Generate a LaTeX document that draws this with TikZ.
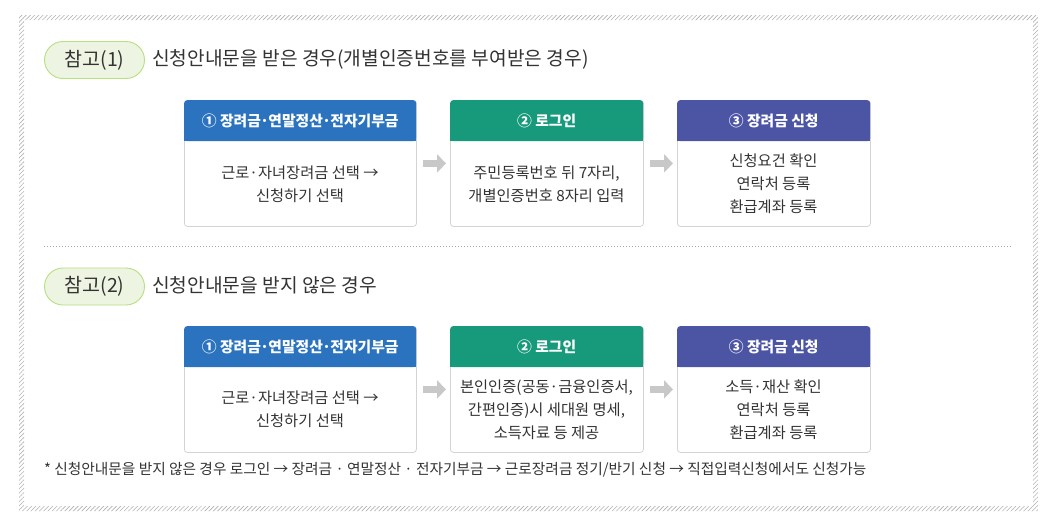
\documentclass[tikz,border=0pt]{standalone}
\usepackage{fontspec}
\setmainfont{Noto Sans CJK KR}
\usetikzlibrary{arrows.meta,patterns.meta}
\definecolor{hblue}{HTML}{2B73BE}
\definecolor{hgreen}{HTML}{179A7B}
\definecolor{hpurple}{HTML}{4B55A4}
\definecolor{pillfill}{HTML}{EDF4E1}
\definecolor{pillline}{HTML}{B8DF80}
\definecolor{boxline}{HTML}{D4D4D4}
\definecolor{txt}{HTML}{333333}
\definecolor{arrowgray}{HTML}{C8C8C8}
\tikzset{
  bodybox/.style={draw=boxline, line width=0.8pt, rounded corners=3pt, fill=white, minimum width=232, minimum height=126, anchor=north west, inner sep=0pt},
  hdr/.style={rounded corners=3pt, minimum width=232, minimum height=41, anchor=north west, inner sep=0pt},
  hdrtext/.style={text=white, font=\fontsize{14.8}{16}\selectfont\bfseries, inner sep=0pt},
  bodytext/.style={align=center, text=txt, font=\fontsize{15.3}{23}\selectfont, inner sep=0pt},
  pill/.style={draw=pillline, fill=pillfill, line width=0.9pt, rounded corners=18.5pt, minimum width=100, minimum height=37, inner sep=0pt, text=txt, font=\fontsize{19.5}{20}\selectfont},
  title/.style={anchor=west, text=txt, font=\fontsize{19.2}{20}\selectfont, inner sep=0pt},
  flow/.style={arrowgray, line width=6.5pt, -{Triangle[width=18pt,length=9pt]}, shorten <=6pt, shorten >=4pt},
}
\newcommand{\md}{\hspace{-0.05em}·\hspace{-0.05em}}
\begin{document}
\begin{tikzpicture}[x=1pt,y=-1pt]
\useasboundingbox (0,0) rectangle (1056,525);
\fill[white] (0,0) rectangle (1056,525);
% hatched frame
\fill[pattern={Lines[angle=45,distance=3pt,line width=0.6pt]}, pattern color=black!30, even odd rule]
  (19,15) rectangle (1038,511) (24,20) rectangle (1033,506);

% ---------- Section 1 ----------
\node[pill] (p1) at (94.5,60) {참고(1)};
\node[title] (t1) at (152,59) {신청안내문을 받은 경우(개별인증번호를 부여받은 경우)};

\node[bodybox, minimum width=232] (a1) at (184,100) {};
\node[hdr, fill=hblue, minimum width=232] (ah1) at (184,100) {};
\fill[hblue] (ah1.west) rectangle (ah1.south east);
\node[hdrtext] (ahl1) at (ah1.center) {① 장려금\md 연말정산\md 전자기부금};
\node[bodytext] (at1) at (300,184) {근로·자녀장려금 선택 →\\신청하기 선택};

\node[bodybox, minimum width=193] (a2) at (450,100) {};
\node[hdr, fill=hgreen, minimum width=193] (ah2) at (450,100) {};
\fill[hgreen] (ah2.west) rectangle (ah2.south east);
\node[hdrtext] (ahl2) at (ah2.center) {② 로그인};
\node[bodytext] (at2) at (546.5,184) {주민등록번호 뒤 7자리,\\개별인증번호 8자리 입력};

\node[bodybox, minimum width=193] (a3) at (677,100) {};
\node[hdr, fill=hpurple, minimum width=193] (ah3) at (677,100) {};
\fill[hpurple] (ah3.west) rectangle (ah3.south east);
\node[hdrtext] (ahl3) at (ah3.center) {③ 장려금 신청};
\node[bodytext] (at3) at (773.5,184) {신청요건 확인\\연락처 등록\\환급계좌 등록};

\draw[flow] (a1.east) -- (a2.west);
\draw[flow] (a2.east) -- (a3.west);

% separator
\draw[black!35, line width=0.8pt, dash pattern=on 1pt off 2pt] (44,246) -- (1012,246);

% ---------- Section 2 ----------
\node[pill] (p2) at (94.5,286.5) {참고(2)};
\node[title] (t2) at (152,285.5) {신청안내문을 받지 않은 경우};

\node[bodybox, minimum width=232] (b1) at (184,326) {};
\node[hdr, fill=hblue, minimum width=232] (bh1) at (184,326) {};
\fill[hblue] (bh1.west) rectangle (bh1.south east);
\node[hdrtext] (bhl1) at (bh1.center) {① 장려금\md 연말정산\md 전자기부금};
\node[bodytext] (bt1) at (300,409.5) {근로·자녀장려금 선택 →\\신청하기 선택};

\node[bodybox, minimum width=193] (b2) at (450,326) {};
\node[hdr, fill=hgreen, minimum width=193] (bh2) at (450,326) {};
\fill[hgreen] (bh2.west) rectangle (bh2.south east);
\node[hdrtext] (bhl2) at (bh2.center) {② 로그인};
\node[bodytext] (bt2) at (546.5,409.5) {본인인증(공동·금융인증서,\\간편인증)시 세대원 명세,\\소득자료 등 제공};

\node[bodybox, minimum width=193] (b3) at (677,326) {};
\node[hdr, fill=hpurple, minimum width=193] (bh3) at (677,326) {};
\fill[hpurple] (bh3.west) rectangle (bh3.south east);
\node[hdrtext] (bhl3) at (bh3.center) {③ 장려금 신청};
\node[bodytext] (bt3) at (773.5,409.5) {소득·재산 확인\\연락처 등록\\환급계좌 등록};

\draw[flow] (b1.east) -- (b2.west);
\draw[flow] (b2.east) -- (b3.west);

% footnote
\node[anchor=west, text=txt, font=\fontsize{14.7}{16}\selectfont, inner sep=0pt] (fn) at (44,470)
  {* 신청안내문을 받지 않은 경우 로그인 → 장려금 · 연말정산 · 전자기부금 → 근로장려금 정기/반기 신청 → 직접입력신청에서도 신청가능};
\end{tikzpicture}
\end{document}
